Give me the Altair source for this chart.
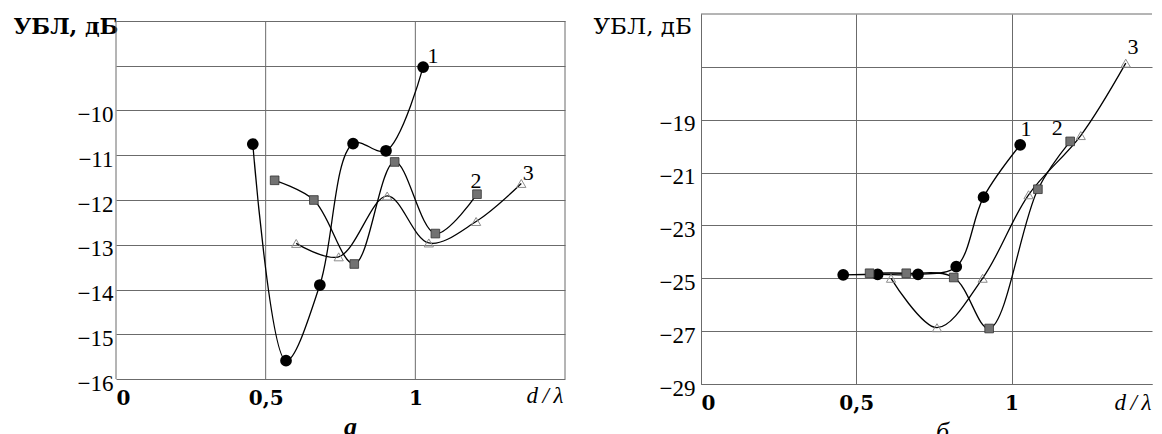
import altair as alt
import pandas as pd

# ---------------- Panel a ----------------
a1_x = [0.457, 0.568, 0.681, 0.792, 0.902, 1.026]
a1_y = [-10.75, -15.59, -13.90, -10.74, -10.90, -9.03]
a2_x = [0.530, 0.661, 0.796, 0.931, 1.067, 1.206]
a2_y = [-11.56, -12.00, -13.43, -11.15, -12.75, -11.87]
a3_x = [0.602, 0.744, 0.906, 1.045, 1.203, 1.354]
a3_y = [-12.97, -13.27, -11.91, -12.96, -12.48, -11.63]

# ---------------- Panel b ----------------
b1_x = [0.458, 0.569, 0.699, 0.822, 0.910, 1.028]
b1_y = [-24.87, -24.85, -24.85, -24.56, -21.93, -19.95]
b2_x = [0.543, 0.661, 0.814, 0.928, 1.085, 1.189]
b2_y = [-24.81, -24.81, -24.97, -26.90, -21.63, -19.82]
b3_x = [0.612, 0.760, 0.907, 1.055, 1.223, 1.368]
b3_y = [-25.00, -26.87, -25.00, -21.84, -19.60, -16.86]

series_names = ["1", "2", "3"]

# curve number labels
a_label_x = [1.059, 1.203, 1.377]
a_label_y = [-8.78, -11.58, -11.40]
b_label_x = [1.047, 1.147, 1.391]
b_label_y = [-19.37, -19.33, -16.26]

# axis / grid values
a_x_grid = [0, 0.5, 1, 1.5]
b_x_grid = [0, 0.5, 1]
a_y_grid = [-16, -15, -14, -13, -12, -11, -10, -9, -8]
b_y_grid = [-29, -27, -25, -23, -21, -19, -17]
b_y_top = -15

y_title = "УБЛ, дБ"
x_title = "d\u2009/\u2009λ"

GRID = "#6b6b6b"


def long_df(xs_list, ys_list):
    rows = []
    for name, xs, ys in zip(series_names, xs_list, ys_list):
        for x, y in zip(xs, ys):
            rows.append({"x": x, "y": y, "series": name})
    return pd.DataFrame(rows)


def label_df(xs, ys):
    return pd.DataFrame({"x": xs, "y": ys, "t": series_names})


def panel(df, ldf, xdom, xvals, ydom, yvals, ymin_hidden, width, height,
          ytitle_font, ytitle_weight, ytitle_size, ytitle_x, ytitle_y,
          ylabel_pad, xt_x, xt_y, caption, cap_weight, cap_dx, cap_offset,
          vlines=None, top_line=None):
    use_rules = vlines is not None
    x_enc = alt.X(
        "x:Q",
        scale=alt.Scale(domain=xdom, nice=False, zero=False),
        axis=alt.Axis(
            values=xvals,
            labelExpr="datum.value == 0.5 ? '0,5' : datum.value > 1 ? '' : format(datum.value, 'd')",
            labelFont="DejaVu Serif", labelFontWeight="bold", labelFontSize=20,
            labelColor="black", labelFlush=True, labelPadding=9,
            ticks=False, tickSize=0, domain=not use_rules, grid=not use_rules,
            domainColor=GRID, gridColor=GRID, gridWidth=1,
            title=x_title, titleFont="Liberation Serif", titleFontStyle="italic",
            titleFontWeight="normal", titleFontSize=23, titleColor="black",
            titleAlign="right", titleBaseline="alphabetic",
            titleX=xt_x, titleY=xt_y,
        ),
    )
    y_enc = alt.Y(
        "y:Q",
        scale=alt.Scale(domain=ydom, nice=False, zero=False),
        axis=alt.Axis(
            values=yvals,
            labelExpr=f"datum.value > {ymin_hidden} ? '' : format(datum.value, 'd')",
            labelFont="Liberation Serif", labelFontSize=23, labelColor="black",
            labelPadding=ylabel_pad, labelOffset=4, labelOverlap=False,
            ticks=False, tickSize=0, domain=not use_rules,
            domainColor=GRID, gridColor=GRID, gridWidth=1,
            title=y_title, titleFont=ytitle_font, titleFontWeight=ytitle_weight,
            titleFontSize=ytitle_size, titleColor="black", titleAngle=0,
            titleAlign="left", titleBaseline="alphabetic",
            titleX=ytitle_x, titleY=ytitle_y,
        ),
    )

    layers = []
    if use_rules:
        rules_df = pd.DataFrame({
            "x": vlines,
            "y": [min(yvals)] * len(vlines),
            "y2": [max(yvals)] * len(vlines),
        })
        layers.append(
            alt.Chart(rules_df).mark_rule(color=GRID, strokeWidth=1).encode(y2="y2:Q")
        )
    if top_line is not None:
        top_df = pd.DataFrame({"x": [xdom[0]], "x2": [xdom[1]], "y": [top_line]})
        layers.append(
            alt.Chart(top_df).mark_rule(color=GRID, strokeWidth=1).encode(x2="x2:Q")
        )

    layers.append(alt.Chart(df).mark_line(
        interpolate="catmull-rom", color="black", strokeWidth=1.3
    ).encode(detail="series:N"))

    layers.append(alt.Chart(df).transform_filter(alt.datum.series == "1").mark_point(
        shape="circle", filled=True, fill="black", stroke="black",
        size=95, opacity=1
    ))
    layers.append(alt.Chart(df).transform_filter(alt.datum.series == "2").mark_point(
        shape="square", filled=True, fill="#727272", stroke="#333333",
        strokeWidth=0.8, size=75, opacity=1
    ))
    layers.append(alt.Chart(df).transform_filter(alt.datum.series == "3").mark_point(
        shape="triangle-up", filled=False, stroke="#8c8c8c",
        strokeWidth=1, size=85, opacity=1
    ))
    layers.append(alt.Chart(ldf).mark_text(
        font="Liberation Serif", fontSize=22, color="black",
        align="center", baseline="middle"
    ).encode(text="t:N"))

    return alt.layer(*layers).encode(x=x_enc, y=y_enc).properties(
        width=width, height=height,
        title=alt.TitleParams(
            text=caption, orient="bottom", anchor="middle", frame="group",
            dx=cap_dx, offset=cap_offset, font="Liberation Serif",
            fontStyle="italic", fontWeight=cap_weight, fontSize=26, color="black",
        ),
    )


# left panel: its frame starts 7 px below the shared top, so the y scale
# reaches slightly above -8 while the frame/grid stops at -8
a_px_per_unit = 44.75
a_height = 365
left = panel(
    long_df([a1_x, a2_x, a3_x], [a1_y, a2_y, a3_y]),
    label_df(a_label_x, a_label_y),
    xdom=[0, 1.5], xvals=a_x_grid,
    ydom=[-16, -16 + a_height / a_px_per_unit], yvals=a_y_grid, ymin_hidden=-10,
    width=449, height=a_height,
    ytitle_font="DejaVu Serif", ytitle_weight="bold", ytitle_size=22,
    ytitle_x=-103, ytitle_y=19, ylabel_pad=3,
    xt_x=447, xt_y=23, caption="a", cap_weight="bold", cap_dx=10, cap_offset=6,
    vlines=a_x_grid,
)

right_width = 451
right = panel(
    long_df([b1_x, b2_x, b3_x], [b1_y, b2_y, b3_y]),
    label_df(b_label_x, b_label_y),
    xdom=[0, right_width / 310.5], xvals=b_x_grid,
    ydom=[-29, b_y_top], yvals=b_y_grid, ymin_hidden=-18,
    width=right_width, height=370,
    ytitle_font="DejaVu Serif", ytitle_weight="normal", ytitle_size=23,
    ytitle_x=-108, ytitle_y=19, ylabel_pad=6,
    xt_x=right_width - 1, xt_y=25, caption="б", cap_weight="normal", cap_dx=16,
    cap_offset=5, top_line=b_y_top,
)

chart = alt.hconcat(left, right, spacing=27).properties(
    padding={"left": 5, "top": 5, "right": 0, "bottom": 0},
    background="white",
).configure_view(strokeOpacity=0, strokeWidth=0)

chart.save("out.html", embed_options={"renderer": "svg", "actions": False})
